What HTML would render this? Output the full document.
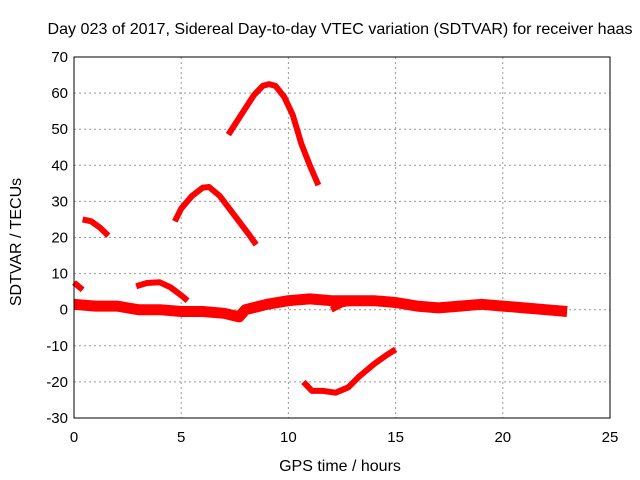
<!DOCTYPE html>
<html><head><meta charset="utf-8"><style>
body{margin:0;background:#fff;}
svg{display:block;font-family:"Liberation Sans",Arial,sans-serif;}
</style></head><body>
<svg id="chart" width="640" height="480" viewBox="0 0 640 480">
<rect width="640" height="480" fill="#fff"/>
<text x="340" y="34" font-size="16" text-anchor="middle" textLength="585" lengthAdjust="spacingAndGlyphs">Day 023 of 2017, Sidereal Day-to-day VTEC variation (SDTVAR) for receiver haas</text>
<g id="grid"></g><g id="series"></g><g id="axes"></g>
<text x="340" y="471" font-size="16" text-anchor="middle">GPS time / hours</text>
<text transform="translate(21,242) rotate(-90)" font-size="16" text-anchor="middle">SDTVAR / TECUs</text>
</svg>
<script>
const xTicks=[0,5,10,15,20,25];
const yTicks=[-30,-20,-10,0,10,20,30,40,50,60,70];
const segA=[[0,7.5],[0.4,5.5]];
const segB=[[0.4,25],[0.8,24.5],[1.2,22.8],[1.6,20.5]];
const segC=[[2.9,6.5],[3.4,7.4],[4.0,7.6],[4.5,6.2],[5.0,4],[5.3,2.5]];
const segD=[[4.7,24.5],[5.0,28],[5.5,31.5],[6.0,33.8],[6.3,34],[6.8,31.5],[7.5,26],[8.2,20.5],[8.5,18]];
const segE=[[7.2,48.5],[7.8,54],[8.4,59.5],[8.8,62],[9.1,62.5],[9.4,62],[9.8,59],[10.2,54],[10.6,46],[11.0,40],[11.4,34.5]];
const segF=[[10.7,-20],[11.1,-22.5],[11.6,-22.5],[12.2,-23],[12.8,-21.5],[13.3,-18.5],[14.0,-15],[14.6,-12.5],[15.0,-11]];
const segG=[[12,0],[12.5,1.5],[13.5,2.5],[14.2,2.5]];
const baseT=[0,1,2,3,4,5,6,7,7.7,8,9,10,11,12,13,14,15,16,17,18,19,20,21,22,23];
const baseV=[1.5,1,1,0,0,-0.5,-0.5,-1,-2,0,1.5,2.5,3,2.5,2.5,2.5,2,1,0.5,1,1.5,1,0.5,0,-0.5];
const X0=74,X1=610,Y0=418,Y1=57;
const sx=v=>X0+(v-0)/(25-0)*(X1-X0);
const sy=v=>Y0-(v+30)/(100)*(Y0-Y1);
const NS="http://www.w3.org/2000/svg";
const grid=document.getElementById('grid'),axes=document.getElementById('axes'),ser=document.getElementById('series');
function mk(tag,attrs,parent){const e=document.createElementNS(NS,tag);for(const k in attrs)e.setAttribute(k,attrs[k]);parent.appendChild(e);return e;}
xTicks.forEach(t=>{
  if(t>0&&t<25){const g=mk('line',{x1:sx(t),x2:sx(t),y1:Y1,y2:Y0,stroke:'#999','stroke-dasharray':'2,3','stroke-width':1},grid);
  
  }
  const tk=mk('text',{x:sx(t),y:Y0+24,'font-size':15,'text-anchor':'middle'},axes);tk.textContent=t;
  
  
});
yTicks.forEach(t=>{
  if(t>-30&&t<70){const g=mk('line',{x1:X0,x2:X1,y1:sy(t),y2:sy(t),stroke:'#999','stroke-dasharray':'2,3','stroke-width':1},grid);
  
  }
  const tk=mk('text',{x:X0-6,y:sy(t)+5,'font-size':15,'text-anchor':'end'},axes);tk.textContent=t;
  
  
});
const fr=mk('rect',{x:X0,y:Y1,width:X1-X0,height:Y0-Y1,fill:'none',stroke:'#000','stroke-width':1},axes);


function pathOf(pts){return pts.map((p,i)=>(i?'L':'M')+sx(p[0]).toFixed(1)+','+sy(p[1]).toFixed(1)).join('');}
const base=baseT.map((t,i)=>[t,baseV[i]]);
const bp=mk('path',{d:pathOf(base),fill:'none',stroke:'#f00','stroke-width':11,'stroke-linejoin':'round'},ser);


[segA,segB,segC,segD,segE,segF,segG].forEach((s,i)=>{
  const p=mk('path',{d:pathOf(s),fill:'none',stroke:'#f00','stroke-width':6,'stroke-linejoin':'round'},ser);
  
  
});
</script>
</body></html>
